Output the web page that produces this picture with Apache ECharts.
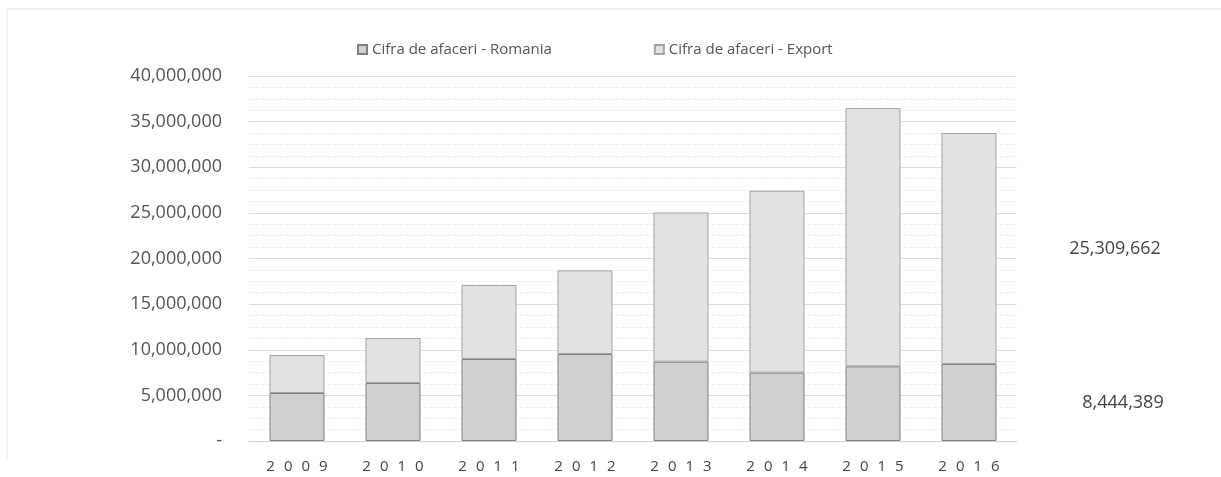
<!DOCTYPE html>
<html>
<head>
<meta charset="utf-8">
<script src="https://cdn.jsdelivr.net/npm/echarts@6/dist/echarts.min.js"></script>
<style>
  html, body { margin: 0; padding: 0; background: #fff; }
  #chart { width: 1221px; height: 477px; }
</style>
</head>
<body>
<div id="chart"></div>
<script>
var years = ['2009', '2010', '2011', '2012', '2013', '2014', '2015', '2016'];
// cifra de afaceri Romania (estimated, 2016 read from label)
var romania = [5260000, 6360000, 8990000, 9530000, 8690000, 7490000, 8180000, 8444389];
// cifra de afaceri Export (estimated, 2016 read from label)
var exportVals = [4160000, 4930000, 8110000, 9170000, 16360000, 19940000, 28310000, 25309662];
var seriesNames = ['Cifra de afaceri - Romania', 'Cifra de afaceri - Export'];

var fmt = function (v) {
  return v === 0 ? '-' : Number(v).toLocaleString('en-US');
};

// only the last bar carries its value, placed to the right of the plot
function withLabel(arr, dx) {
  return arr.map(function (v, i) {
    if (i !== arr.length - 1) return v;
    return {
      value: v,
      label: {
        show: true, position: 'inside', offset: [dx, 0],
        formatter: function (p) { return fmt(p.value); },
        color: '#444', fontSize: 18, fontFamily: 'Open Sans'
      }
    };
  });
}

var chart = echarts.init(document.getElementById('chart'));
chart.setOption({
  backgroundColor: '#fff',
  animation: false,
  textStyle: { fontFamily: 'Open Sans' },
  graphic: [
    { type: 'line', shape: { x1: 7, y1: 9, x2: 1221, y2: 9 }, style: { stroke: '#e2e2e2', lineWidth: 1 } },
    { type: 'line', shape: { x1: 7, y1: 9, x2: 7, y2: 460 }, style: { stroke: '#eaeaea', lineWidth: 1 } }
  ],
  legend: {
    top: 37,
    left: 352,
    icon: 'rect',
    itemWidth: 9,
    itemHeight: 9,
    itemGap: 102,
    textStyle: { color: '#555', fontSize: 15 },
    data: seriesNames
  },
  grid: { left: 249, right: 204, top: 76, bottom: 36, containLabel: false },
  xAxis: {
    type: 'category',
    data: years,
    axisTick: { show: false },
    axisLine: { lineStyle: { color: '#cfcfcf' } },
    axisLabel: {
      margin: 18, color: '#444', fontSize: 15,
      formatter: function (v) { return v.split('').join('\u2002\u200a'); }
    }
  },
  yAxis: {
    type: 'value',
    min: 0, max: 40000000, interval: 5000000,
    axisLine: { show: false },
    axisTick: { show: false },
    axisLabel: { margin: 27, color: '#555', fontSize: 18, formatter: fmt },
    splitLine: { lineStyle: { color: '#dedede' } },
    minorTick: { show: false, splitNumber: 4 },
    minorSplitLine: { show: true, lineStyle: { color: '#eeeeee', type: 'dashed' } }
  },
  series: [
    {
      name: seriesNames[0], type: 'bar', stack: 'ca', barWidth: 55,
      data: withLabel(romania, 154),
      itemStyle: { color: '#cfd0d0', borderColor: '#7f7f7f', borderWidth: 1 }
    },
    {
      name: seriesNames[1], type: 'bar', stack: 'ca', barWidth: 55,
      data: withLabel(exportVals, 146),
      itemStyle: { color: '#e1e2e2', borderColor: '#a3a3a3', borderWidth: 1 }
    }
  ]
});
</script>
</body>
</html>
